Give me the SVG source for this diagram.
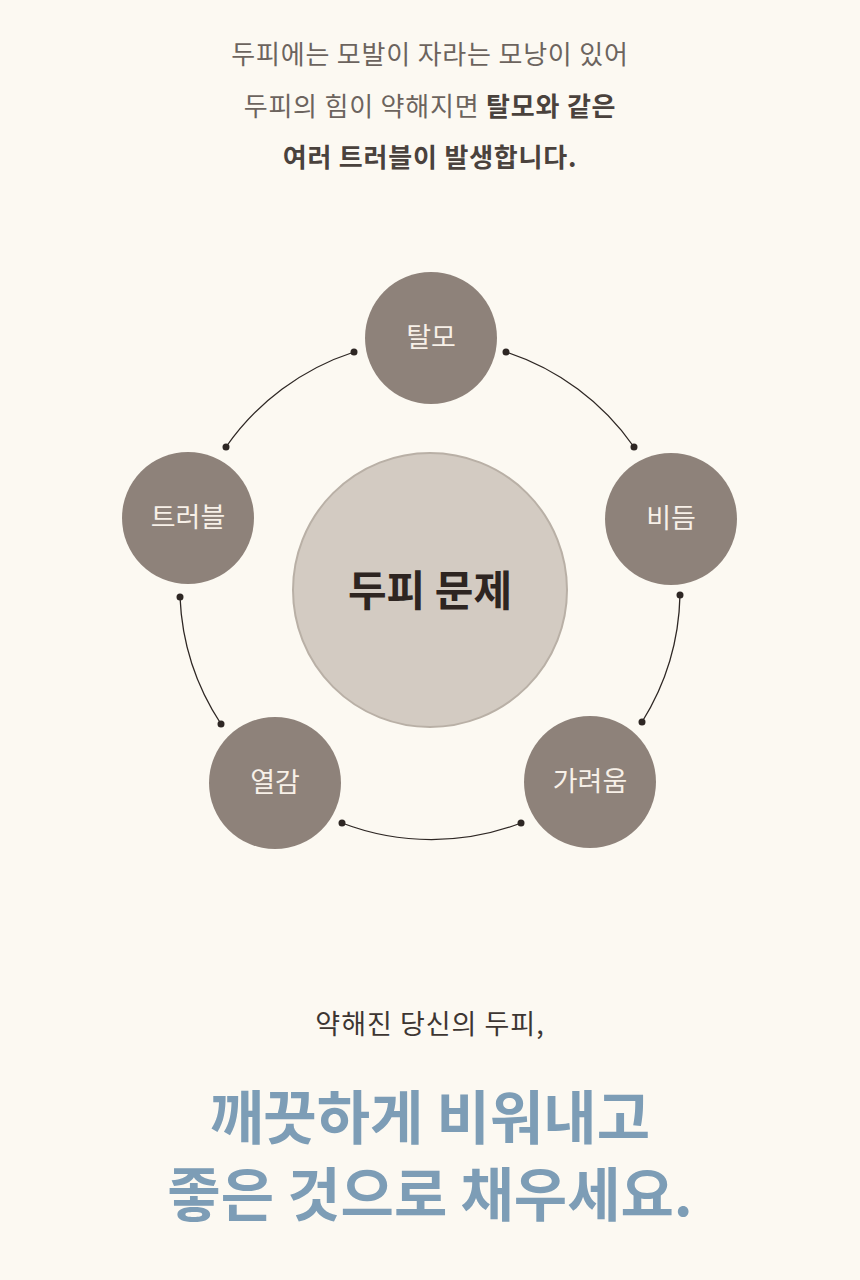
<svg xmlns="http://www.w3.org/2000/svg" width="860" height="1280" viewBox="0 0 860 1280">
<style>
text{font-family:"Noto Sans CJK KR","Noto Sans",sans-serif;text-anchor:middle}
.intro{font-size:26px;letter-spacing:0.8px;fill:#6c645e}
.introb{font-weight:700;fill:#4a423d}
.node circle{fill:#8e827a}
.node text{font-size:27px;fill:#f7f0e8}
.center circle{fill:#d3cbc2;stroke:#b9b0a6;stroke-width:2}
.center text{font-size:42px;font-weight:700;fill:#2e2521}
.conn path{fill:none;stroke:#2e2724;stroke-width:1.3}
.conn circle{fill:#2e2724}
.sub{font-size:27px;letter-spacing:1px;fill:#3d3632}
.big{font-size:58px;font-weight:700;fill:#7d9db6}
</style>
<rect width="860" height="1280" fill="#fcf9f2"/>
<g id="intro">
<text class="intro" x="430" y="64">두피에는 모발이 자라는 모낭이 있어</text>
<text class="intro" x="430" y="116">두피의 힘이 약해지면 <tspan class="introb">탈모와 같은</tspan></text>
<text class="intro introb" x="430" y="167">여러 트러블이 발생합니다.</text>
</g>
<g id="connectors" class="conn">
<path d="M226,447 A250,250 0 0 1 354,352"/>
<path d="M506,352 A250,250 0 0 1 634,447"/>
<path d="M680,595 A250,250 0 0 1 642,722"/>
<path d="M521,823 A250,250 0 0 1 342,823"/>
<path d="M221,724 A250,250 0 0 1 180,597"/>
<circle cx="226" cy="447" r="3.5"/><circle cx="354" cy="352" r="3.5"/>
<circle cx="506" cy="352" r="3.5"/><circle cx="634" cy="447" r="3.5"/>
<circle cx="680" cy="595" r="3.5"/><circle cx="642" cy="722" r="3.5"/>
<circle cx="521" cy="823" r="3.5"/><circle cx="342" cy="823" r="3.5"/>
<circle cx="221" cy="724" r="3.5"/><circle cx="180" cy="597" r="3.5"/>
</g>
<g id="center" class="center">
<circle cx="430" cy="590" r="137"/>
<text x="430" y="606">두피 문제</text>
</g>
<g id="node-talmo" class="node">
<circle cx="431" cy="338" r="66"/>
<text x="431" y="347">탈모</text>
</g>
<g id="node-bideum" class="node">
<circle cx="671" cy="519" r="66"/>
<text x="671" y="528">비듬</text>
</g>
<g id="node-gallyeoum" class="node">
<circle cx="590" cy="782" r="66"/>
<text x="590" y="791">가려움</text>
</g>
<g id="node-yeolgam" class="node">
<circle cx="275" cy="783" r="66"/>
<text x="275" y="792">열감</text>
</g>
<g id="node-trouble" class="node">
<circle cx="188" cy="518" r="66"/>
<text x="188" y="527">트러블</text>
</g>
<g id="outro">
<text class="sub" x="430" y="1034">약해진 당신의 두피,</text>
<text class="big" x="430" y="1139">깨끗하게 비워내고</text>
<text class="big" x="430" y="1216">좋은 것으로 채우세요.</text>
</g>
</svg>
